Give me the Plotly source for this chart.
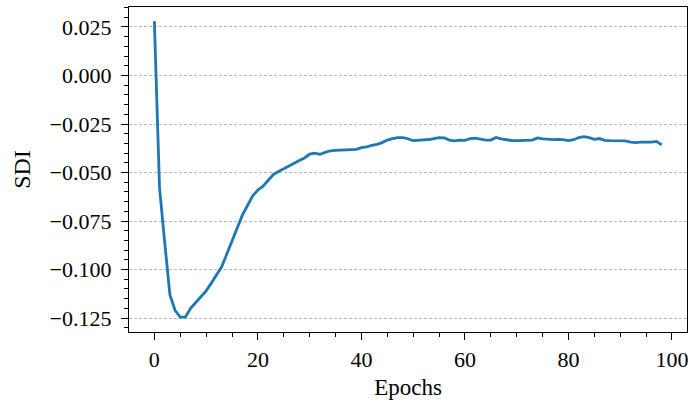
import plotly.graph_objects as go

epochs = list(range(99))
sdi = [
    0.028, -0.058, -0.086, -0.113, -0.121, -0.1245, -0.1245, -0.120, -0.117, -0.114,
    -0.111, -0.107, -0.103, -0.0986, -0.092, -0.085, -0.078, -0.072, -0.067, -0.062,
    -0.059, -0.057, -0.054, -0.051, -0.0495, -0.048, -0.0465, -0.045, -0.0438, -0.0425,
    -0.0405, -0.0400, -0.0406, -0.0396, -0.0388, -0.0386, -0.0384, -0.0384, -0.0383, -0.0381,
    -0.0372, -0.0368, -0.0360, -0.0355, -0.0346, -0.0333, -0.0325, -0.0320, -0.0320, -0.0326,
    -0.0336, -0.0334, -0.0335, -0.0330, -0.0325, -0.0320, -0.0321, -0.0333, -0.0337, -0.0333,
    -0.0334, -0.0326, -0.0323, -0.0328, -0.0333, -0.0333, -0.0319, -0.0327, -0.0332, -0.0335,
    -0.0336, -0.0334, -0.0333, -0.0333, -0.0322, -0.0327, -0.0328, -0.0331, -0.0330, -0.0331,
    -0.0336, -0.0331, -0.0320, -0.0315, -0.0320, -0.0329, -0.0325, -0.0334, -0.0336, -0.0337,
    -0.0339, -0.0337, -0.0343, -0.0346, -0.0343, -0.0344, -0.0343, -0.0340, -0.0358,
]

x_ticks = [0, 20, 40, 60, 80, 100]
y_ticks = [0.025, 0.000, -0.025, -0.050, -0.075, -0.100, -0.125]
y_tick_text = ["0.025", "0.000", "\u22120.025", "\u22120.050", "\u22120.075", "\u22120.100", "\u22120.125"]

font_family = "Liberation Serif"

fig = go.Figure()
fig.add_trace(go.Scatter(
    x=epochs, y=sdi, mode="lines",
    line=dict(color="#1f77b4", width=2.8),
    showlegend=False,
))

fig.update_layout(
    width=692, height=402,
    margin=dict(l=129, r=5, t=7, b=70),
    paper_bgcolor="white", plot_bgcolor="white",
    font=dict(family=font_family, size=22, color="black"),
)

fig.update_xaxes(
    range=[-4.9, 102.9], automargin=False,
    tickmode="array", tickvals=x_ticks, ticktext=[str(v) for v in x_ticks],
    ticks="outside", ticklen=7, tickwidth=1.2, tickcolor="black",
    minor=dict(ticks="outside", dtick=5, tick0=0, ticklen=4, tickwidth=1, tickcolor="black", showgrid=False),
    showline=True, linecolor="black", linewidth=1.3, mirror=True,
    showgrid=False, zeroline=False,
    title=dict(text="Epochs", font=dict(family=font_family, size=23), standoff=8),
    tickfont=dict(family=font_family, size=22),
)

fig.update_yaxes(
    range=[-0.1322, 0.0353], automargin=False,
    tickmode="array", tickvals=y_ticks, ticktext=y_tick_text,
    ticks="outside", ticklen=7, tickwidth=1.2, tickcolor="black",
    ticklabelstandoff=5,
    minor=dict(ticks="outside", dtick=0.005, tick0=0, ticklen=4, tickwidth=1, tickcolor="black", showgrid=False),
    showline=True, linecolor="black", linewidth=1.3, mirror=True,
    showgrid=True, gridcolor="#b8b8b8", gridwidth=1, griddash="3px,2px",
    zeroline=False,
    title=dict(text="SDI", font=dict(family=font_family, size=24), standoff=12),
    tickfont=dict(family=font_family, size=22),
)

fig.write_html(
    "out.html",
    config={"displayModeBar": False},
    post_script="document.body.style.margin='0';document.body.style.overflow='hidden';",
)
